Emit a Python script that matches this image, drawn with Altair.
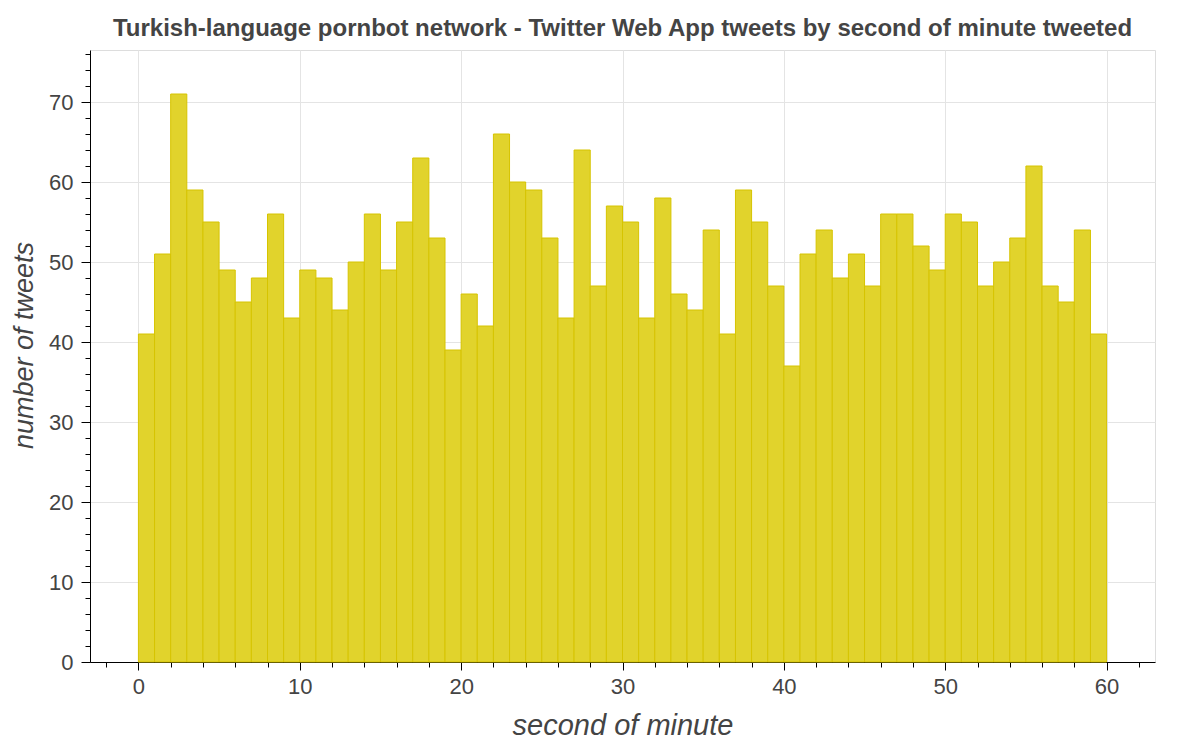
import altair as alt
import pandas as pd

# bin starts (seconds 0..59), each bin one second wide
bin_start = list(range(60))
bin_end = [s + 1 for s in bin_start]
counts = [41, 51, 71, 59, 55, 49, 45, 48, 56, 43,
          49, 48, 44, 50, 56, 49, 55, 63, 53, 39,
          46, 42, 66, 60, 59, 53, 43, 64, 47, 57,
          55, 43, 58, 46, 44, 54, 41, 59, 55, 47,
          37, 51, 54, 48, 51, 47, 56, 56, 52, 49,
          56, 55, 47, 50, 53, 62, 47, 45, 54, 41]

x_tick_values = list(range(-2, 63, 2))
y_tick_values = list(range(0, 77, 2))

df = pd.DataFrame({"start": bin_start, "end": bin_end, "count": counts})

FONT = "Liberation Sans"
major = "datum.value % 10 === 0"

x_axis = alt.Axis(
    values=x_tick_values,
    labelExpr=f"{major} ? datum.label : ''",
    title="second of minute",
    titleFontStyle="italic",
    titleFontWeight="normal",
    titleFontSize=29,
    titleColor="#444444",
    titleFont=FONT,
    titlePadding=14,
    labelFont=FONT,
    labelFontSize=22,
    labelColor="#444444",
    labelPadding=6,
    labelOverlap=False,
    domainColor="#000000",
    domainWidth=1,
    tickColor="#000000",
    tickWidth=1,
    tickSize={"condition": {"test": major, "value": 8}, "value": 5},
    grid=True,
    gridColor="#e4e4e4",
    gridWidth=1,
    gridOpacity={"condition": {"test": major, "value": 1}, "value": 0},
)

y_axis = alt.Axis(
    values=y_tick_values,
    labelExpr=f"{major} ? datum.label : ''",
    title="number of tweets",
    titleFontStyle="italic",
    titleFontWeight="normal",
    titleFontSize=27,
    titleColor="#444444",
    titleFont=FONT,
    titlePadding=10,
    titleY=295,
    labelFont=FONT,
    labelFontSize=22,
    labelColor="#444444",
    labelPadding=8,
    labelOverlap=False,
    domainColor="#000000",
    domainWidth=1,
    tickColor="#000000",
    tickWidth=1,
    tickSize={"condition": {"test": major, "value": 9}, "value": 5},
    grid=True,
    gridColor="#e4e4e4",
    gridWidth=1,
    gridOpacity={"condition": {"test": major, "value": 1}, "value": 0},
)

chart = (
    alt.Chart(df)
    .mark_rect(fill="#e1d32c", stroke="#d6c400", strokeWidth=1, fillOpacity=1)
    .encode(
        x=alt.X("start:Q", scale=alt.Scale(domain=[-3, 63], nice=False, zero=False), axis=x_axis),
        x2="end:Q",
        y=alt.Y("count:Q", scale=alt.Scale(domain=[0, 76.5], nice=False), axis=y_axis),
        y2=alt.datum(0),
    )
    .properties(
        width=1065,
        height=612,
        title=alt.TitleParams(
            "Turkish-language pornbot network - Twitter Web App tweets by second of minute tweeted",
            font=FONT,
            fontSize=24,
            fontWeight="bold",
            color="#444444",
            anchor="middle",
            offset=2,
        ),
        autosize=alt.AutoSizeParams(type="none"),
        padding={"left": 90, "top": 50, "right": 45, "bottom": 88},
    )
    .configure_view(stroke="#e4e4e4", strokeWidth=1)
    .configure(background="white")
)

chart.save("out.html", embed_options={"renderer": "svg", "actions": False})
